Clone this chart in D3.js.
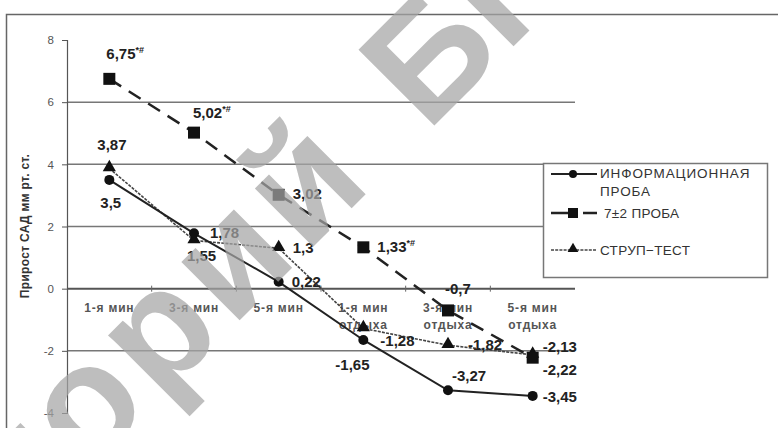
<!DOCTYPE html>
<html>
<head>
<meta charset="utf-8">
<script src="https://cdn.jsdelivr.net/npm/d3@7"></script>
<style>
  html, body { margin: 0; padding: 0; background: #fff; }
  svg { display: block; font-family: "Liberation Sans", Arial, sans-serif; }
</style>
</head>
<body>
<svg id="chart" width="778" height="428"></svg>
<script>
// Categories (time points) and values of systolic pressure increase
const categories = [["1-я мин"], ["3-я мин"], ["5-я мин"], ["1-я мин", "отдыха"], ["3-я мин", "отдыха"], ["5-я мин", "отдыха"]];
const infoValues   = [3.5, 1.78, 0.22, -1.65, -3.27, -3.45];
const digitValues  = [6.75, 5.02, 3.02, 1.33, -0.7, -2.22];
const stroopValues = [3.87, 1.55, 1.3, -1.28, -1.82, -2.13];
const digitMarks   = ["*#", "*#", "", "*#", "", ""];
const yTicks = [8, 6, 4, 2, 0, -2, -4];
const seriesNames = [["ИНФОРМАЦИОННАЯ", "ПРОБА"], ["7±2 ПРОБА"], ["СТРУП−ТЕСТ"]];
const yTitle = "Прирост САД мм рт. ст.";

// label offsets [dx, dy] from each point to the label's start/baseline
const infoLabelPos   = [[-9, 28], [16, 5], [13, 5], [-28, 30], [4, -9], [10, 6]];
const digitLabelPos  = [[-3, -20], [-1, -15], [14, 4], [14, 5], [-3, -16], [10, 17]];
const stroopLabelPos = [[-12, -18], [-7, 21], [14, 5], [17, 18], [20, 5], [10, -3]];

const svg = d3.select("#chart");
const fmt = v => String(v).replace(".", ",");

// outer frame
svg.append("rect").attr("x", 6.5).attr("y", 14.5).attr("width", 820).attr("height", 480)
  .attr("fill", "#fff").attr("stroke", "#666").attr("stroke-width", 1.5);

const left = 67, right = 575;
const x = d3.scaleBand().domain(d3.range(categories.length)).range([left, right]);
const cx = i => x(i) + x.bandwidth() / 2;
const y = d3.scaleLinear().domain([-4, 8]).range([413, 40]);

// gridlines
svg.append("g").selectAll("line").data(yTicks.filter(t => t !== 8 && t !== -4 && t !== 0)).join("line")
  .attr("x1", left).attr("x2", right).attr("y1", d => y(d)).attr("y2", d => y(d))
  .attr("stroke", "#777").attr("stroke-width", 1.5);

// y axis
const yAxis = svg.append("g").attr("transform", `translate(${left},0)`)
  .call(d3.axisLeft(y).tickValues(yTicks).tickSize(5).tickPadding(8).tickFormat(d => d));
yAxis.select(".domain").attr("stroke", "#555").attr("stroke-width", 1.2);
yAxis.selectAll(".tick line").attr("stroke", "#555");
yAxis.selectAll("text").attr("fill", "#555").attr("font-size", 11.5);

// zero line with category ticks
svg.append("line").attr("x1", left).attr("x2", right).attr("y1", y(0)).attr("y2", y(0))
  .attr("stroke", "#555").attr("stroke-width", 2);
svg.append("g").selectAll("line").data(d3.range(1, categories.length)).join("line")
  .attr("x1", d => x(d)).attr("x2", d => x(d)).attr("y1", y(0) - 3).attr("y2", y(0) + 3)
  .attr("stroke", "#666").attr("stroke-width", 1);

// category labels
const catG = svg.append("g");
categories.forEach((lines, i) => {
  const t = catG.append("text").attr("x", cx(i)).attr("y", 312).attr("text-anchor", "middle")
    .attr("font-size", 12).attr("font-weight", "bold").attr("letter-spacing", 0.8).attr("fill", "#555");
  lines.forEach((s, k) => t.append("tspan").attr("x", cx(i)).attr("dy", k ? 17 : 0).text(s));
});

// y axis title
svg.append("text").attr("transform", "translate(29,226) rotate(-90)").attr("text-anchor", "middle")
  .attr("font-size", 12).attr("font-weight", "bold").attr("letter-spacing", 0.3).attr("fill", "#333").text(yTitle);

const line = d3.line().x((d, i) => cx(i)).y(d => y(d));

// series lines
svg.append("path").datum(stroopValues).attr("d", line).attr("fill", "none")
  .attr("stroke", "#444").attr("stroke-width", 1.6).attr("stroke-dasharray", "3,1.2");
svg.append("path").datum(infoValues).attr("d", line).attr("fill", "none")
  .attr("stroke", "#222").attr("stroke-width", 2);
svg.append("path").datum(digitValues).attr("d", line).attr("fill", "none")
  .attr("stroke", "#222").attr("stroke-width", 2.5).attr("stroke-dasharray", "14,9");

// markers
const tri = d3.symbol().type(d3.symbolTriangle).size(75);
svg.append("g").selectAll("path").data(stroopValues).join("path")
  .attr("d", tri).attr("transform", (d, i) => `translate(${cx(i)},${y(d) - 1})`).attr("fill", "#111");
svg.append("g").selectAll("circle").data(infoValues).join("circle")
  .attr("cx", (d, i) => cx(i)).attr("cy", d => y(d)).attr("r", 5).attr("fill", "#111");
svg.append("g").selectAll("rect").data(digitValues).join("rect")
  .attr("x", (d, i) => cx(i) - 6).attr("y", d => y(d) - 6).attr("width", 12).attr("height", 12).attr("fill", "#111");

// value labels
function labels(values, pos, marks) {
  const g = svg.append("g").attr("font-size", 15).attr("font-weight", "bold").attr("fill", "#222");
  values.forEach((v, i) => {
    const t = g.append("text").attr("x", cx(i) + pos[i][0]).attr("y", y(v) + pos[i][1]).text(fmt(v));
    if (marks && marks[i]) t.append("tspan").attr("dy", -6).attr("font-size", 9).text(marks[i]);
  });
}
labels(infoValues, infoLabelPos);
labels(digitValues, digitLabelPos, digitMarks);
labels(stroopValues, stroopLabelPos);

// legend
const lg = svg.append("g");
lg.append("rect").attr("x", 543.5).attr("y", 163.5).attr("width", 224).attr("height", 114)
  .attr("fill", "#fff").attr("stroke", "#777").attr("stroke-width", 1.5);
const legendRows = [174, 213, 250];
const textRows = [[178, 196], [218], [255]];
legendRows.forEach((ly, k) => {
  const ln = lg.append("line").attr("x1", 551).attr("x2", 597).attr("y1", ly).attr("y2", ly);
  if (k === 0) ln.attr("stroke", "#222").attr("stroke-width", 2);
  if (k === 1) ln.attr("stroke", "#222").attr("stroke-width", 2.5).attr("stroke-dasharray", "18,14");
  if (k === 2) ln.attr("stroke", "#444").attr("stroke-width", 1.5).attr("stroke-dasharray", "3,1.2");
  if (k === 0) lg.append("circle").attr("cx", 573).attr("cy", ly).attr("r", 4).attr("fill", "#111");
  if (k === 1) lg.append("rect").attr("x", 568).attr("y", ly - 5).attr("width", 10).attr("height", 10).attr("fill", "#111");
  if (k === 2) lg.append("path").attr("d", d3.symbol().type(d3.symbolTriangle).size(50)).attr("transform", `translate(573,${ly - 1})`).attr("fill", "#111");
  seriesNames[k].forEach((s, j) => {
    lg.append("text").attr("x", k === 1 ? 604 : 600).attr("y", textRows[k][j]).attr("font-size", 13.5)
      .attr("letter-spacing", k === 0 ? 0.9 : 0.3).attr("fill", "#333").text(s);
  });
});

// repository watermark
const wm = svg.append("g").attr("fill", "#a5a5a5").attr("fill-opacity", 0.72)
  .attr("font-size", 156).attr("font-weight", "bold");
wm.append("text").attr("transform", "translate(427,133) rotate(-45)").text("БГПУ");
wm.append("text").attr("transform", "translate(379,181) rotate(-45)").attr("text-anchor", "end")
  .attr("letter-spacing", 8).text("Репозиторий");
</script>
</body>
</html>
